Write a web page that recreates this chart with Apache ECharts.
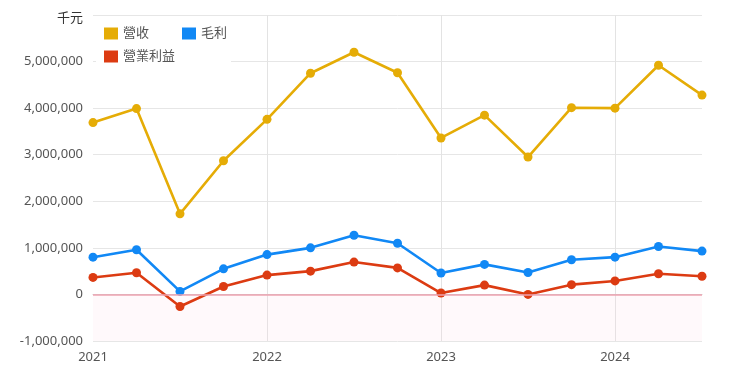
<!DOCTYPE html>
<html><head><meta charset="utf-8">
<script src="https://cdn.jsdelivr.net/npm/echarts@6/dist/echarts.min.js"></script>
<style>html,body{margin:0;padding:0;background:#fff}#c{width:740px;height:379px}</style>
</head><body><div id="c"></div>
<script>
const quarters = ['2021Q1','2021Q2','2021Q3','2021Q4','2022Q1','2022Q2','2022Q3','2022Q4','2023Q1','2023Q2','2023Q3','2023Q4','2024Q1','2024Q2','2024Q3'];
const revenue = [3690000,3990000,1730000,2870000,3760000,4750000,5200000,4760000,3360000,3850000,2950000,4010000,4000000,4920000,4280000];
const grossProfit = [800000,960000,65000,550000,855000,1000000,1270000,1100000,460000,645000,470000,745000,800000,1030000,930000];
const operatingProfit = [365000,465000,-260000,170000,415000,500000,695000,570000,30000,200000,0,210000,290000,445000,390000];
const seriesNames = ['營收','毛利','營業利益'];
const unitName = '千元';

const xs = quarters.map(q => Number(q.slice(0,4)) + (Number(q.slice(5)) - 1) / 4);
const pair = arr => arr.map((v,i) => [xs[i], v]);
const font = "'Noto Sans','Noto Sans CJK TC',sans-serif";
const chart = echarts.init(document.getElementById('c'), null, {renderer:'canvas'});
const colors = ['#e5ac06','#1188f5','#dc3b12'];
const mk = (name, data, idx, extra) => Object.assign({
  name, type:'line', data: pair(data), symbol:'circle', symbolSize:9,
  lineStyle:{width:2.6, color:colors[idx]}, itemStyle:{color:colors[idx]}, z: 5 - idx
}, extra || {});
const legendText = {fontSize:13, color:'#555', fontFamily:font};
chart.setOption({
  animation:false,
  textStyle:{fontFamily:font},
  color: colors,
  grid:{left:93, right:38, top:15, bottom:38},
  legend:[{
    data: seriesNames.slice(0,2), left:96, top:22, padding:[5,4,27,8],
    backgroundColor:'#fff', itemWidth:14, itemHeight:12, itemGap:33,
    icon:'rect', z:10, textStyle:legendText
  },{
    data: seriesNames.slice(2), left:96, top:45, padding:[5,4,5,8],
    itemWidth:14, itemHeight:12, icon:'rect', z:11, textStyle:legendText
  }],
  xAxis:{
    type:'value', min:2021, max:2024.5, interval:1,
    axisLine:{show:true, lineStyle:{color:'#ccc'}}, axisTick:{show:false},
    axisLabel:{color:'#555', fontSize:13, margin:10, showMaxLabel:false,
      formatter: v => Number.isInteger(v) ? String(v) : ''},
    splitLine:{show:true, showMinLine:false, showMaxLine:false, lineStyle:{color:'#e3e3e3'}}
  },
  yAxis:{
    type:'value', min:-1000000, max:6000000, interval:1000000,
    name: unitName, nameLocation:'end', nameGap:-3,
    nameTextStyle:{color:'#333', fontSize:13, align:'right', verticalAlign:'middle', padding:[0,10,0,0], fontFamily:font},
    axisLine:{show:false}, axisTick:{show:false},
    axisLabel:{color:'#555', fontSize:13, margin:10, showMaxLabel:false,
      formatter: v => v.toLocaleString('en-US')},
    splitLine:{lineStyle:{color:'#e6e6e6'}}
  },
  series:[
    mk(seriesNames[0], revenue, 0, {
      markArea:{silent:true, itemStyle:{color:'rgba(255,215,225,0.15)'}, data:[[{yAxis:-1000000},{yAxis:0}]]},
      markLine:{silent:true, symbol:'none', label:{show:false}, lineStyle:{color:'#eea3b0', width:1.5, type:'solid'}, data:[{yAxis:0}]}
    }),
    mk(seriesNames[1], grossProfit, 1),
    mk(seriesNames[2], operatingProfit, 2)
  ]
});
</script></body></html>
